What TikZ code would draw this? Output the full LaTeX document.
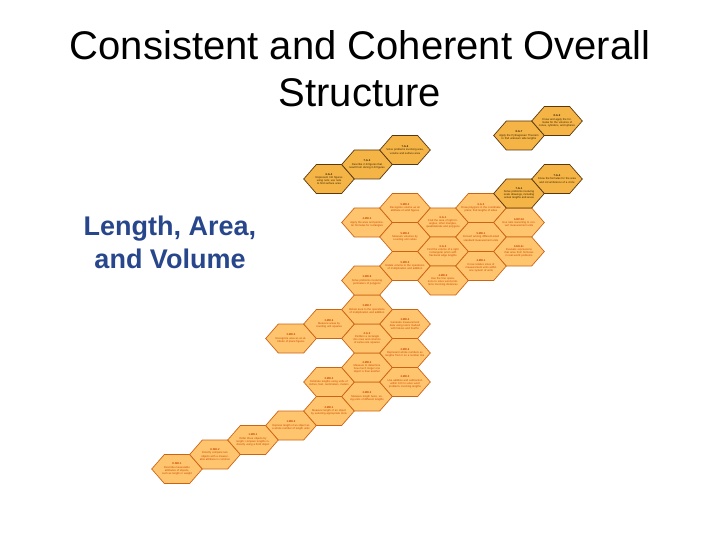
\documentclass[tikz,border=0pt]{standalone}
\usepackage{fontspec}
\setmainfont{Liberation Sans}
\definecolor{hexfill}{RGB}{255,196,110}
\definecolor{hexline}{RGB}{205,100,20}
\definecolor{goldfill}{RGB}{244,180,70}
\definecolor{goldline}{RGB}{90,55,15}
\definecolor{hexink}{RGB}{200,70,0}
\definecolor{goldink}{RGB}{60,35,5}
\definecolor{topicblue}{RGB}{40,70,140}
\begin{document}
\begin{tikzpicture}[x=1pt, y=-1pt,
  hexmain/.style={fill=hexfill, draw=hexline, line width=0.7pt},
  hexgold/.style={fill=goldfill, draw=goldline, line width=0.7pt},
  hextext/.style={font=\fontsize{2.7}{3.2}\selectfont, align=center, text width=40pt, inner sep=0pt},
  title/.style={font=\fontsize{40}{47}\selectfont},
  topic/.style={font=\fontsize{27}{32}\selectfont\bfseries, text=topicblue}]
  \useasboundingbox (0,0) rectangle (720,540);

  \node[title, anchor=base] (titleA) at (360,60) {Consistent and Coherent Overall};
  \node[title, anchor=base] (titleB) at (360,107) {Structure};
  \node[topic, anchor=base] (topicA) at (170,236) {Length, Area,};
  \node[topic, anchor=base] (topicB) at (170,268) {and Volume};

  % main cluster, column / half-row on the honeycomb
  \foreach \c/\r/\code/\txt [count=\i] in {
    -4/-20/K.MD.1/{Describe measurable attributes of objects, such as length or weight},
    -3/-19/K.MD.2/{Directly compare two objects with a measurable attribute in common},
    -2/-18/1.MD.1/{Order three objects by length; compare lengths indirectly using a third object},
    -1/-17/1.MD.2/{Express length of an object as a whole number of length units},
    0/-16/2.MD.1/{Measure length of an object by selecting appropriate tools},
    1/-15/2.MD.2/{Measure length twice, using units of different lengths},
    0/-14/2.MD.3/{Estimate lengths using units of inches, feet, centimeters, meters},
    1/-13/2.MD.4/{Measure to determine how much longer one object is than another},
    2/-14/2.MD.5/{Use addition and subtraction within 100 to solve word problems involving lengths},
    2/-12/2.MD.6/{Represent whole numbers as lengths from 0 on a number line},
    2/-10/3.MD.4/{Generate measurement data using rulers marked with halves and fourths},
    1/-11/2.G.2/{Partition a rectangle into rows and columns of same-size squares},
    -1/-11/3.MD.5/{Recognize area as an attribute of plane figures},
    0/-10/3.MD.6/{Measure areas by counting unit squares},
    1/-9/3.MD.7/{Relate area to the operations of multiplication and addition},
    1/-7/3.MD.8/{Solve problems involving perimeters of polygons},
    1/-3/4.MD.3/{Apply the area and perimeter formulas for rectangles},
    2/-2/5.MD.3/{Recognize volume as an attribute of solid figures},
    2/-4/5.MD.4/{Measure volumes by counting unit cubes},
    2/-6/5.MD.5/{Relate volume to the operations of multiplication and addition},
    3/-3/6.G.1/{Find the area of right triangles, other triangles, quadrilaterals and polygons},
    3/-5/6.G.2/{Find the volume of a right rectangular prism with fractional edge lengths},
    3/-7/4.MD.2/{Use the four operations to solve word problems involving distances},
    4/-2/6.G.3/{Draw polygons in the coordinate plane; find lengths of sides},
    4/-4/5.MD.1/{Convert among different-sized standard measurement units},
    4/-6/4.MD.1/{Know relative sizes of measurement units within one system of units},
    5/-3/6.RP.3d/{Use ratio reasoning to convert measurement units},
    5/-5/6.EE.2c/{Evaluate expressions that arise from formulas in real-world problems}} {
    \pgfmathsetmacro{\hx}{329+38*\c}
    \pgfmathsetmacro{\hy}{179-14.5*\r}
    \draw[hexmain] (\hx-25.3,\hy) -- ++(12.65,-14.5) -- ++(25.3,0) -- ++(12.65,14.5)
      -- ++(-12.65,14.5) -- ++(-25.3,0) -- cycle;
    \node[hextext, text=hexink] (hexm\i) at (\hx,\hy) {\textbf{\code}\\\txt};
  }

  % grade 7 and 8 cells
  \foreach \c/\r/\code/\txt [count=\i] in {
    0/0/6.G.4/{Represent 3-D figures using nets; use nets to find surface area},
    1/1/7.G.3/{Describe 2-D figures that result from slicing 3-D figures},
    2/2/7.G.6/{Solve problems involving area, volume and surface area},
    5/-1/7.G.1/{Solve problems involving scale drawings, including actual lengths and areas},
    6/0/7.G.4/{Know the formulas for the area and circumference of a circle},
    5/3/8.G.7/{Apply the Pythagorean Theorem to find unknown side lengths},
    6/4/8.G.9/{Know and apply the formulas for the volumes of cones, cylinders, and spheres}} {
    \pgfmathsetmacro{\hx}{329+38*\c}
    \pgfmathsetmacro{\hy}{179-14.5*\r}
    \draw[hexgold] (\hx-25.3,\hy) -- ++(12.65,-14.5) -- ++(25.3,0) -- ++(12.65,14.5)
      -- ++(-12.65,14.5) -- ++(-25.3,0) -- cycle;
    \node[hextext, text=goldink] (hexg\i) at (\hx,\hy) {\textbf{\code}\\\txt};
  }
\end{tikzpicture}
\end{document}
